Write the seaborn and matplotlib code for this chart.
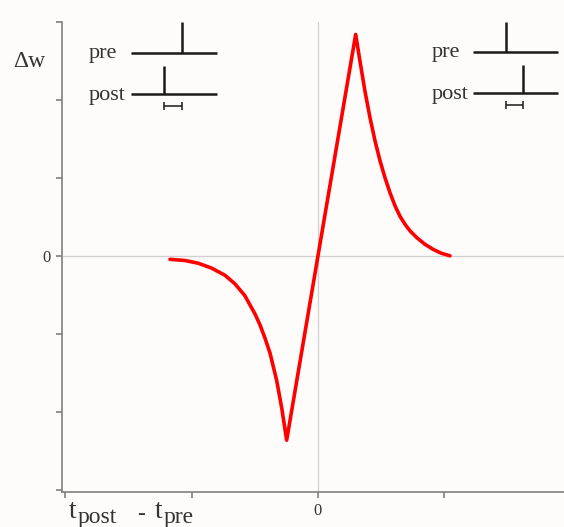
import matplotlib
matplotlib.use("Agg")
import matplotlib.pyplot as plt
from matplotlib.lines import Line2D
import seaborn as sns
import pandas as pd

# ---- data ----
t_values = [-1.172, -1.053, -0.948, -0.842, -0.736, -0.657, -0.578, -0.499,
            -0.459, -0.420, -0.380, -0.327, -0.287, -0.248,
            0.0,
            0.2985, 0.3325, 0.3721, 0.4117, 0.4513, 0.4909, 0.5305, 0.5701,
            0.6097, 0.6492, 0.6888, 0.7284, 0.7838, 0.8472, 0.9105, 0.9739,
            1.0451]
dw_values = [-0.045, -0.060, -0.095, -0.158, -0.250, -0.360, -0.514, -0.745,
             -0.887, -1.054, -1.247, -1.600, -1.954, -2.365,
             0.0,
             2.841, 2.497, 2.112, 1.774, 1.478, 1.221, 1.003, 0.810,
             0.643, 0.508, 0.405, 0.321, 0.231, 0.148, 0.084, 0.035,
             0.0]
x_ticks = [-2, -1, 0, 1]
x_tick_labels = ["", "", "0", ""]
y_ticks = [-3, -2, -1, 0, 1, 2, 3]
y_tick_labels = ["", "", "", "0", "", "", ""]

df = pd.DataFrame({"t": t_values, "dw": dw_values})

sns.set_style("white")
plt.rcParams["font.family"] = ["Liberation Serif", "DejaVu Serif"]

W, H = 564, 527
fig = plt.figure(figsize=(W / 100, H / 100), dpi=100)
bg = "#fdfcfb"
fig.patch.set_facecolor(bg)
ax = fig.add_axes([62 / W, (H - 492) / H, (W - 62) / W, (492 - 22) / H])
ax.set_facecolor(bg)

ax.axhline(0, color="#d0d0d0", lw=0.9, zorder=1)
ax.axvline(0, color="#d0d0d0", lw=0.9, zorder=1)

sns.lineplot(data=df, x="t", y="dw", ax=ax, color="#ff0000", lw=2.6,
             estimator=None, sort=False, zorder=3)
ax.lines[-1].set_solid_joinstyle("round")

ax.set_xlim(-2.027, 1.948)
ax.set_ylim(-3.03, 3.0)
ax.set_xticks(x_ticks)
ax.set_xticklabels(x_tick_labels, fontsize=12, color="#333333")
ax.set_yticks(y_ticks)
ax.set_yticklabels(y_tick_labels, fontsize=12, color="#333333")
ax.tick_params(axis="both", direction="out", length=4, width=1.2,
               color="#808080", pad=4, left=True, bottom=True)
for side in ["top", "right"]:
    ax.spines[side].set_visible(False)
for side in ["left", "bottom"]:
    ax.spines[side].set_color("#808080")
    ax.spines[side].set_linewidth(1.2)
ax.set_xlabel("")
ax.set_ylabel("")


def ftext(x, y, s, size, **kw):
    fig.text(x / W, 1 - y / H, s, fontsize=size, color="#333333",
             ha="left", va="baseline", **kw)


# axis titles
ftext(13, 67, "\u0394w", 17)
ftext(69, 518, "t", 20)
ftext(78, 523, "post", 17)
ftext(137, 520, "-", 17)
ftext(155, 518, "t", 20)
ftext(164, 523, "pre", 17)


def fline(xs, ys, lw=1.8, color="#1a1a1a"):
    fig.add_artist(Line2D([x / W for x in xs], [1 - y / H for y in ys],
                          lw=lw, color=color, solid_capstyle="butt"))


def diagram(x_text, x0, x1, pre_spike, post_spike, y_pre, y_post):
    ftext(x_text, y_pre + 5, "pre", 16)
    ftext(x_text, y_post + 6, "post", 16)
    fline([x0, x1], [y_pre, y_pre])
    fline([x0, x1], [y_post, y_post])
    fline([pre_spike, pre_spike], [y_pre, 22])
    fline([post_spike, post_spike], [y_post, y_post - 28])
    a, b = sorted([pre_spike, post_spike])
    yb = y_post + 12
    fline([a, b], [yb, yb], lw=1.1)
    fline([a, a], [yb - 4, yb + 4], lw=1.1)
    fline([b, b], [yb - 4, yb + 4], lw=1.1)


diagram(89, 131, 217, 182, 164, 53, 94)
diagram(432, 473, 558, 506, 523, 52, 93)

fig.savefig("out.png", dpi=100, facecolor=bg)
